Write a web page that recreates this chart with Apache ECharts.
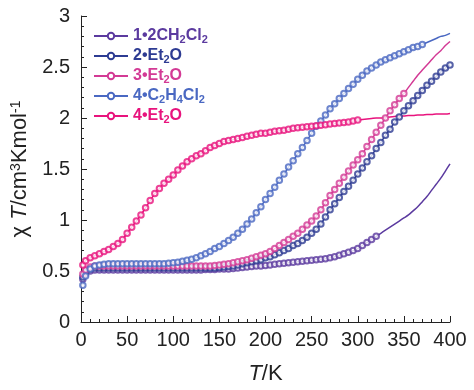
<!DOCTYPE html>
<html>
<head>
<meta charset="utf-8">
<script src="https://cdn.jsdelivr.net/npm/echarts@6/dist/echarts.min.js"></script>
<style>html,body{margin:0;padding:0;background:#fff;}#c{width:474px;height:390px;}</style>
</head>
<body>
<div id="c"></div>
<script>
// Temperature (K)
var T = [2,5,10,15,20,25,30,35,40,45,
  50,55,60,65,70,75,80,85,90,95,
  100,105,110,115,120,125,130,135,140,145,
  150,155,160,165,170,175,180,185,190,195,
  200,205,210,215,220,225,230,235,240,245,
  250,255,260,265,270,275,280,285,290,295,
  300,305,310,315,320,325,330,335,340,345,
  350,355,360,365,370,375,380,385,390,395,
  400];

var names = ['1•2CH2Cl2','2•Et2O','3•Et2O','4•C2H4Cl2','4•Et2O'];

var s1 = [0.42,0.47,0.50,0.51,0.51,0.51,0.51,0.51,0.51,0.51,
  0.51,0.51,0.51,0.51,0.51,0.51,0.51,0.51,0.51,0.51,
  0.51,0.51,0.51,0.51,0.51,0.51,0.51,0.515,0.515,0.515,
  0.52,0.52,0.52,0.525,0.53,0.535,0.54,0.545,0.55,0.55,
  0.555,0.56,0.565,0.57,0.575,0.58,0.585,0.59,0.595,0.60,
  0.605,0.61,0.615,0.62,0.63,0.64,0.655,0.67,0.685,0.70,
  0.72,0.75,0.78,0.81,0.84,0.87,0.90,0.93,0.96,0.99,
  1.02,1.05,1.09,1.13,1.18,1.23,1.29,1.35,1.41,1.48,
  1.55];
var s2 = [0.44,0.49,0.52,0.53,0.53,0.53,0.53,0.53,0.53,0.53,
  0.53,0.53,0.53,0.53,0.53,0.53,0.53,0.53,0.53,0.53,
  0.53,0.53,0.53,0.53,0.53,0.53,0.53,0.53,0.53,0.53,
  0.535,0.54,0.545,0.55,0.56,0.57,0.58,0.59,0.60,0.61,
  0.63,0.64,0.66,0.68,0.70,0.72,0.75,0.77,0.80,0.83,
  0.87,0.91,0.96,1.03,1.10,1.16,1.22,1.28,1.33,1.39,
  1.45,1.51,1.57,1.63,1.70,1.76,1.83,1.89,1.96,2.01,
  2.07,2.12,2.17,2.22,2.27,2.32,2.36,2.41,2.45,2.49,
  2.52];
var s3 = [0.47,0.51,0.54,0.55,0.55,0.55,0.55,0.55,0.55,0.55,
  0.55,0.55,0.55,0.55,0.55,0.55,0.55,0.55,0.55,0.55,
  0.55,0.55,0.55,0.55,0.55,0.55,0.55,0.55,0.55,0.555,
  0.56,0.565,0.57,0.58,0.59,0.60,0.61,0.625,0.64,0.655,
  0.67,0.69,0.72,0.75,0.78,0.81,0.84,0.87,0.91,0.95,
  0.99,1.04,1.10,1.17,1.24,1.30,1.36,1.42,1.48,1.54,
  1.59,1.65,1.72,1.79,1.86,1.93,2.00,2.07,2.13,2.19,
  2.24,2.30,2.36,2.42,2.47,2.52,2.57,2.62,2.66,2.71,
  2.75];
var s4 = [0.36,0.45,0.52,0.55,0.56,0.565,0.57,0.57,0.57,0.57,
  0.57,0.57,0.57,0.57,0.57,0.57,0.57,0.57,0.57,0.575,
  0.58,0.585,0.595,0.605,0.615,0.63,0.65,0.67,0.69,0.72,
  0.74,0.77,0.80,0.83,0.87,0.91,0.96,1.01,1.07,1.13,
  1.20,1.26,1.32,1.39,1.45,1.52,1.58,1.65,1.71,1.78,
  1.85,1.92,1.97,2.03,2.09,2.14,2.19,2.24,2.29,2.33,
  2.38,2.42,2.46,2.49,2.52,2.55,2.57,2.59,2.61,2.63,
  2.65,2.67,2.69,2.70,2.72,2.74,2.76,2.78,2.80,2.81,
  2.83];
var s5 = [0.56,0.60,0.63,0.65,0.67,0.69,0.71,0.74,0.77,0.81,
  0.87,0.93,0.99,1.05,1.12,1.19,1.26,1.31,1.36,1.40,
  1.44,1.49,1.53,1.57,1.60,1.63,1.65,1.68,1.71,1.73,
  1.75,1.77,1.78,1.79,1.80,1.81,1.82,1.83,1.84,1.85,
  1.85,1.86,1.87,1.875,1.88,1.89,1.90,1.905,1.91,1.915,
  1.92,1.925,1.93,1.935,1.94,1.945,1.95,1.955,1.96,1.97,
  1.98,1.985,1.99,1.995,2.00,2.00,2.005,2.01,2.015,2.02,
  2.02,2.025,2.025,2.03,2.03,2.035,2.035,2.04,2.04,2.04,
  2.045];
// last temperature with measured points (markers)
var markerEnd = [320, 400, 350, 370, 300];

var values = [s1, s2, s3, s4, s5];
var colors = ['#5b3a9f', '#2d3b92', '#d33a95', '#4a68c2', '#e8137d'];
var legendRich = {
  '1•2CH2Cl2': '1•2CH{s|2}Cl{s|2}',
  '2•Et2O': '2•Et{s|2}O',
  '3•Et2O': '3•Et{s|2}O',
  '4•C2H4Cl2': '4•C{s|2}H{s|4}Cl{s|2}',
  '4•Et2O': '4•Et{s|2}O'
};

var series = [];
names.forEach(function (n, i) {
  var pts = T.map(function (t, k) { return [t, values[i][k]]; });
  series.push({
    name: n, type: 'line', data: pts, smooth: 0.3,
    symbol: 'emptyCircle', symbolSize: 6, showSymbol: false,
    lineStyle: { color: colors[i], width: 1.5 },
    itemStyle: { color: colors[i], borderWidth: 1.2 },
    z: 2, silent: true, animation: false
  });
});
names.forEach(function (n, i) {
  var pts = T.map(function (t, k) { return [t, values[i][k]]; })
             .filter(function (p) { return p[0] <= markerEnd[i]; });
  series.push({
    name: n + ' data', type: 'scatter', data: pts,
    symbol: 'emptyCircle', symbolSize: 5.5,
    itemStyle: { color: colors[i], borderColor: colors[i], borderWidth: 1.1 },
    z: 3, silent: true, animation: false
  });
});

var chart = echarts.init(document.getElementById('c'), null, { renderer: 'canvas' });
var font = 'Liberation Sans, Arial, sans-serif';
chart.setOption({
  animation: false,
  backgroundColor: '#fff',
  grid: { left: 81, right: 24, top: 16, bottom: 65 },
  legend: {
    orient: 'vertical', left: 88, top: 22, itemGap: 2,
    itemWidth: 34, itemHeight: 8,
    data: names.map(function (n, i) { return { name: n, textStyle: { color: colors[i] } }; }),
    formatter: function (n) { return legendRich[n]; },
    textStyle: {
      fontFamily: font, fontSize: 16, fontWeight: 'bold', lineHeight: 18,
      rich: { s: { fontSize: 11, fontWeight: 'bold', fontFamily: font, lineHeight: 12, verticalAlign: 'bottom', padding: [6, 0, 0, 0] } }
    }
  },
  xAxis: {
    type: 'value', min: 0, max: 400, interval: 50,
    name: '{i|T}{n|/K}', nameLocation: 'middle', nameGap: 41,
    nameTextStyle: { rich: {
      i: { fontFamily: font, fontSize: 22, fontStyle: 'italic', color: '#222' },
      n: { fontFamily: font, fontSize: 22, color: '#222' } } },
    axisLine: { show: true, lineStyle: { color: '#222', width: 1 } },
    axisTick: { show: true, inside: true, length: 6, lineStyle: { color: '#222' } },
    minorTick: { show: true, splitNumber: 5, length: 3, lineStyle: { color: '#222' } },
    splitLine: { show: false },
    axisLabel: { fontFamily: font, fontSize: 20, color: '#222', margin: 8 }
  },
  yAxis: {
    type: 'value', min: 0, max: 3, interval: 0.5,
    name: '{n|χ }{i|T}{n|/cm}{u|3}{n|Kmol}{u|-1}', nameLocation: 'middle', nameGap: 44,
    nameTextStyle: { rich: {
      i: { fontFamily: font, fontSize: 22, fontStyle: 'italic', color: '#222' },
      n: { fontFamily: font, fontSize: 22, color: '#222' },
      u: { fontFamily: font, fontSize: 14, color: '#222', verticalAlign: 'top', lineHeight: 14, padding: [0, 0, 8, 0] } } },
    axisLine: { show: true, lineStyle: { color: '#222', width: 1 } },
    axisTick: { show: true, inside: true, length: 6, lineStyle: { color: '#222' } },
    minorTick: { show: true, splitNumber: 5, length: 3, lineStyle: { color: '#222' } },
    splitLine: { show: false },
    axisLabel: { fontFamily: font, fontSize: 20, color: '#222', margin: 11 }
  },
  series: series
});
</script>
</body>
</html>
